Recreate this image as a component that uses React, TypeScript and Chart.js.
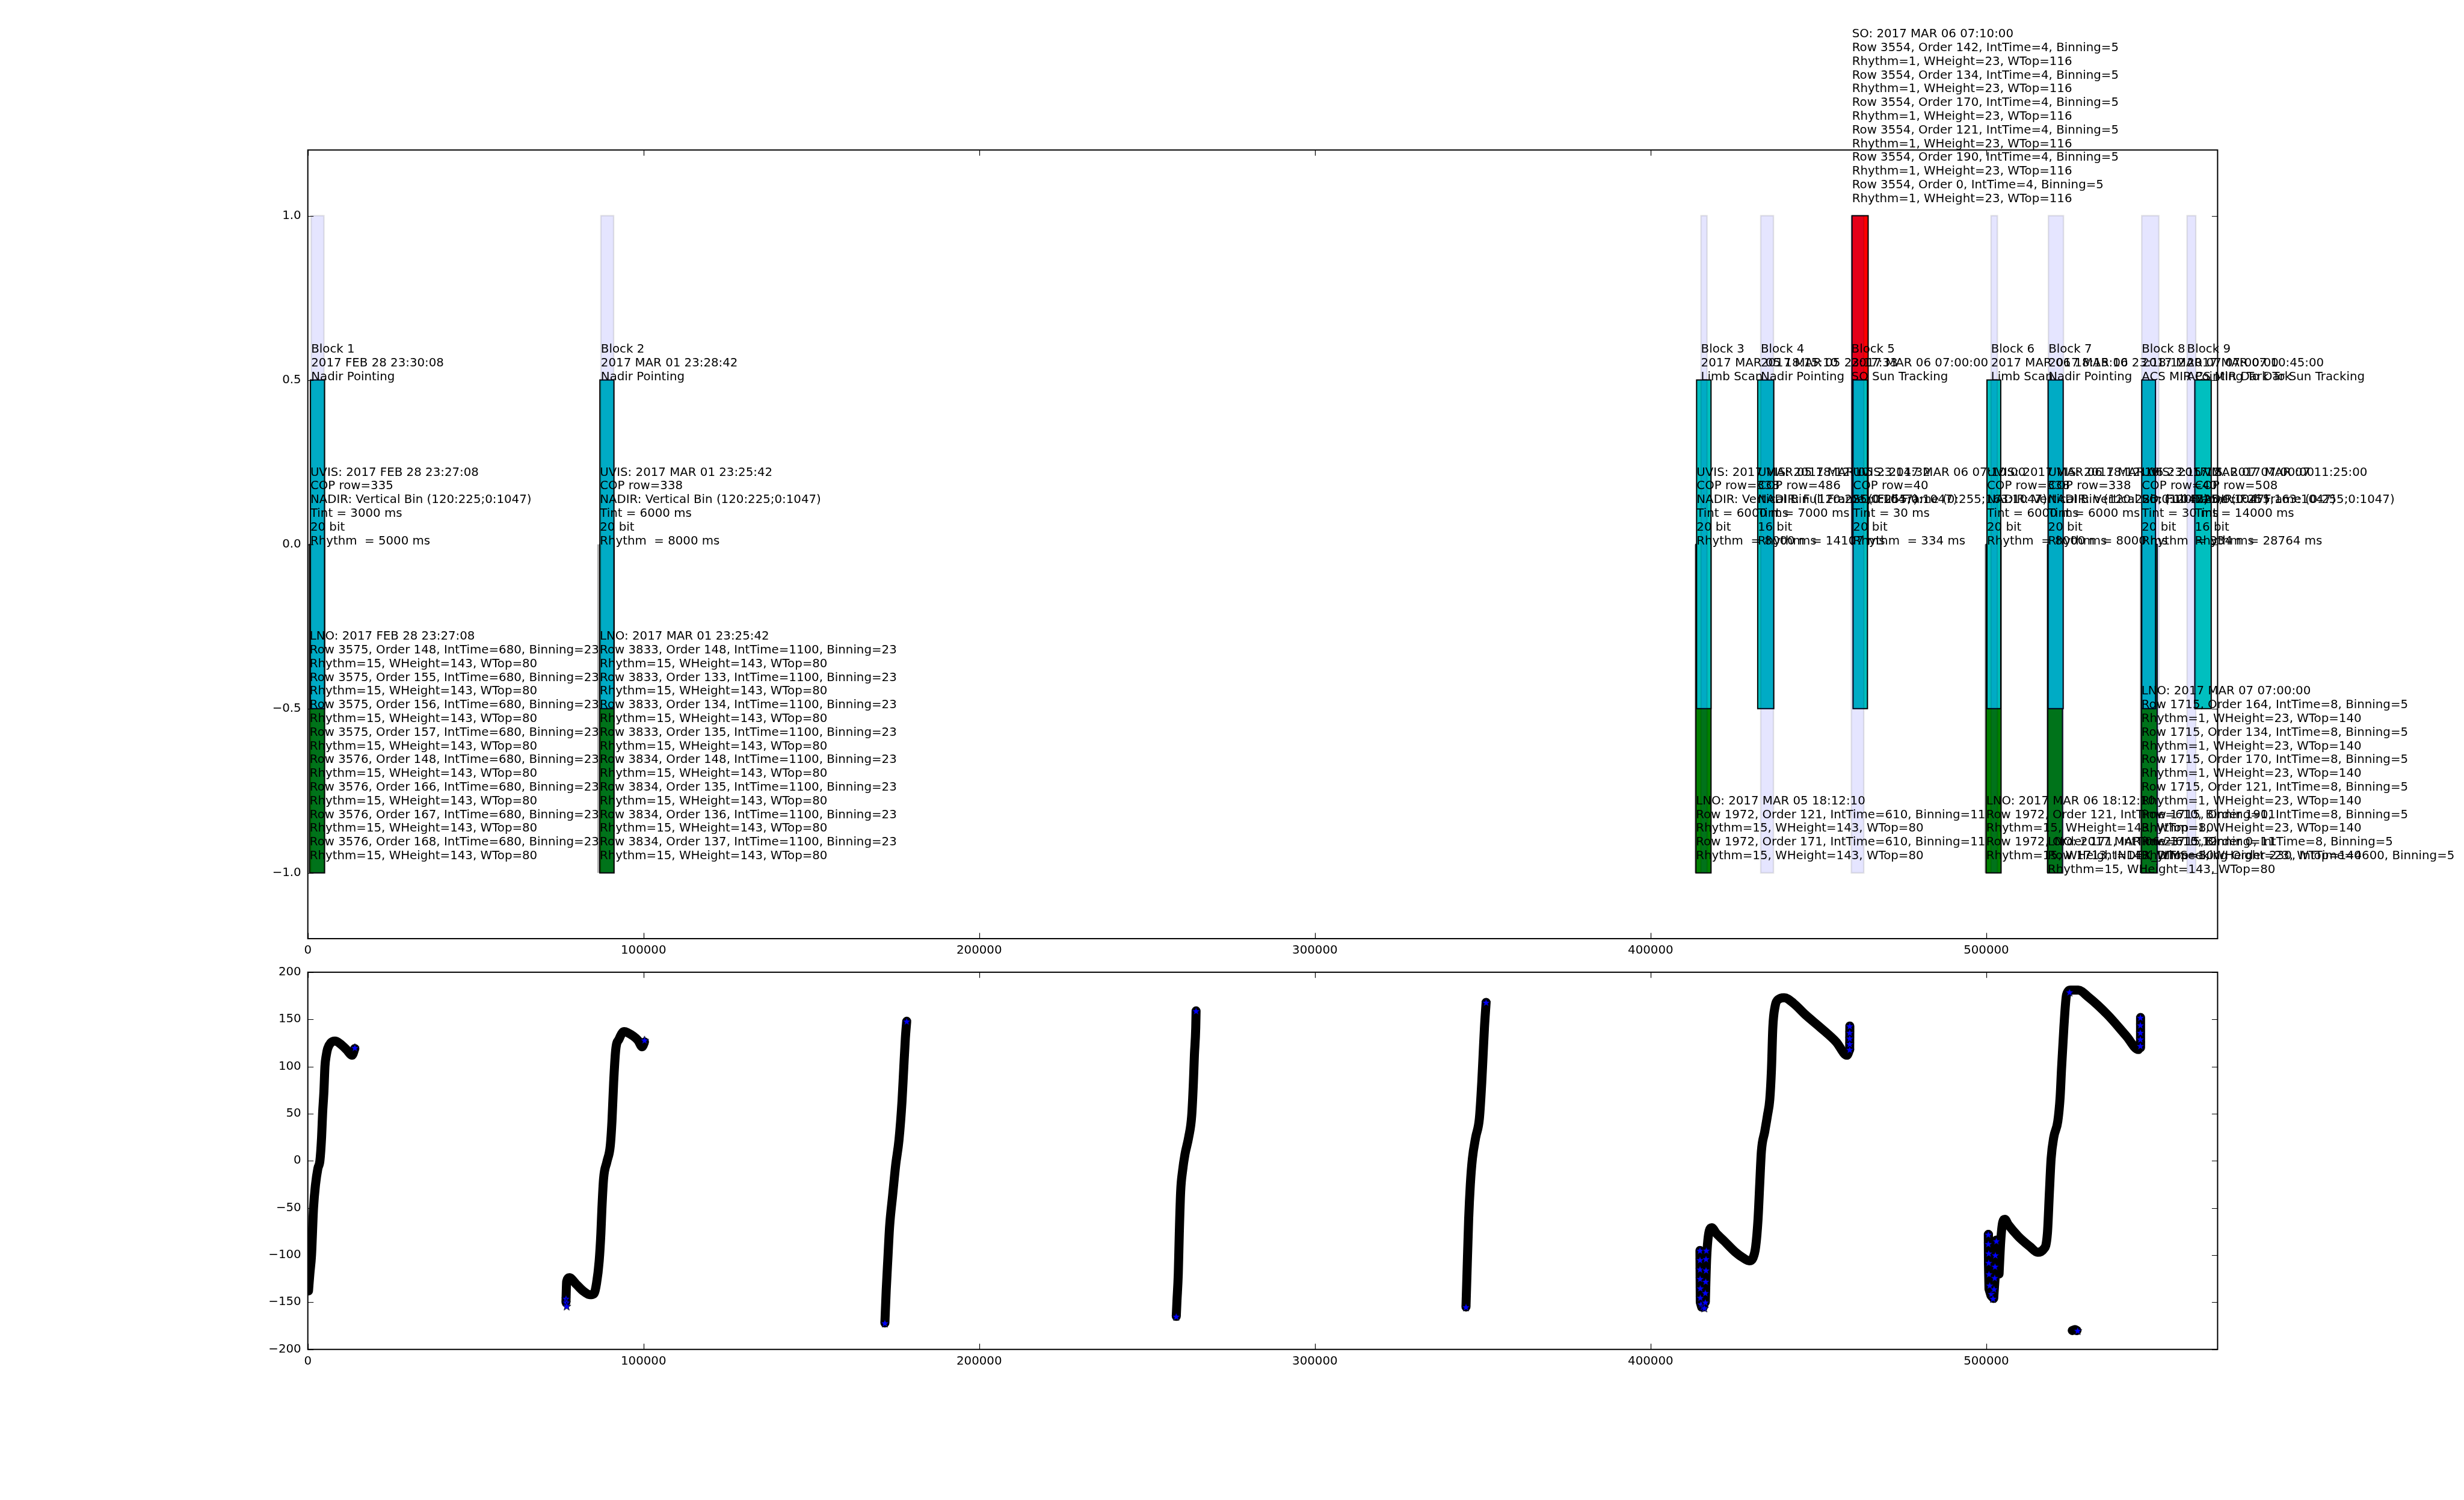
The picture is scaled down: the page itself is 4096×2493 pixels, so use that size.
import React, { useEffect, useRef } from "react";
import { Chart, registerables } from "chart.js";
Chart.register(...registerables);

const S = 4096 / 6900;
const FONT = "DejaVu Sans";
const FS = 19.8;
const LH = 22.8;

// ---------- axes ----------
const xTicks = [0, 100000, 200000, 300000, 400000, 500000];
const X_MAX = 568900;
const topYTicks = [-1.0, -0.5, 0.0, 0.5, 1.0];
const botYTicks = [-200, -150, -100, -50, 0, 50, 100, 150, 200];

// ---------- top panel: observation blocks ----------
const blockStart = [1000, 87300, 415000, 432800, 459800, 501400, 518500, 546300, 559800];
const blockEnd = [4800, 91100, 416800, 436600, 463500, 503300, 523000, 551400, 562400];
const blockLabels = [
  "Block 1\n2017 FEB 28 23:30:08\nNadir Pointing",
  "Block 2\n2017 MAR 01 23:28:42\nNadir Pointing",
  "Block 3\n2017 MAR 05 18:15:10\nLimb Scan",
  "Block 4\n2017 MAR 05 23:17:33\nNadir Pointing",
  "Block 5\n2017 MAR 06 07:00:00\nSO Sun Tracking",
  "Block 6\n2017 MAR 06 18:15:10\nLimb Scan",
  "Block 7\n2017 MAR 06 23:18:12\nNadir Pointing",
  "Block 8\n2017 MAR 07 07:00:00\nACS MIR Pointing To Dark",
  "Block 9\n2017 MAR 07 10:45:00\nACS MIR Dark To Sun Tracking",
];

const uvisStart = [750, 87000, 413700, 431900, 460300, 500200, 518400, 546300, 562100];
const uvisEnd = [5000, 91200, 418000, 436700, 464600, 504300, 522900, 550400, 567000];
const uvisLabels = [
  "UVIS: 2017 FEB 28 23:27:08\nCOP row=335\nNADIR: Vertical Bin (120:225;0:1047)\nTint = 3000 ms\n20 bit\nRhythm  = 5000 ms",
  "UVIS: 2017 MAR 01 23:25:42\nCOP row=338\nNADIR: Vertical Bin (120:225;0:1047)\nTint = 6000 ms\n20 bit\nRhythm  = 8000 ms",
  "UVIS: 2017 MAR 05 18:12:10\nCOP row=338\nNADIR: Vertical Bin (120:225;0:1047)\nTint = 6000 ms\n20 bit\nRhythm  = 8000 ms",
  "UVIS: 2017 MAR 05 23:14:32\nCOP row=486\nNADIR: Full Frame (0:255;0:1047)\nTint = 7000 ms\n16 bit\nRhythm  = 14107 ms",
  "UVIS: 2017 MAR 06 07:10:00\nCOP row=40\nSO: Full Frame (0:255;163:1047)\nTint = 30 ms\n20 bit\nRhythm  = 334 ms",
  "UVIS: 2017 MAR 06 18:12:10\nCOP row=338\nNADIR: Vertical Bin (120:225;0:1047)\nTint = 6000 ms\n20 bit\nRhythm  = 8000 ms",
  "UVIS: 2017 MAR 06 23:15:12\nCOP row=338\nNADIR: Vertical Bin (120:225;0:1047)\nTint = 6000 ms\n20 bit\nRhythm  = 8000 ms",
  "UVIS: 2017 MAR 07 07:00:00\nCOP row=40\nSO: Full Frame (0:255;163:1047)\nTint = 30 ms\n20 bit\nRhythm  = 334 ms",
  "UVIS: 2017 MAR 07 11:25:00\nCOP row=508\nNADIR: Full Frame (0:255;0:1047)\nTint = 14000 ms\n16 bit\nRhythm  = 28764 ms",
];

const lnoStart = [550, 86970, 413500, 499950, 518300, 546200];
const lnoEnd = [5000, 91230, 418000, 504400, 522700, 550900];
const lnoEdgeStart = [-200, 86240, 413100, 499500, 517900, 545750];
const lnoLabels = [
  "LNO: 2017 FEB 28 23:27:08\nRow 3575, Order 148, IntTime=680, Binning=23\nRhythm=15, WHeight=143, WTop=80\nRow 3575, Order 155, IntTime=680, Binning=23\nRhythm=15, WHeight=143, WTop=80\nRow 3575, Order 156, IntTime=680, Binning=23\nRhythm=15, WHeight=143, WTop=80\nRow 3575, Order 157, IntTime=680, Binning=23\nRhythm=15, WHeight=143, WTop=80\nRow 3576, Order 148, IntTime=680, Binning=23\nRhythm=15, WHeight=143, WTop=80\nRow 3576, Order 166, IntTime=680, Binning=23\nRhythm=15, WHeight=143, WTop=80\nRow 3576, Order 167, IntTime=680, Binning=23\nRhythm=15, WHeight=143, WTop=80\nRow 3576, Order 168, IntTime=680, Binning=23\nRhythm=15, WHeight=143, WTop=80\n",
  "LNO: 2017 MAR 01 23:25:42\nRow 3833, Order 148, IntTime=1100, Binning=23\nRhythm=15, WHeight=143, WTop=80\nRow 3833, Order 133, IntTime=1100, Binning=23\nRhythm=15, WHeight=143, WTop=80\nRow 3833, Order 134, IntTime=1100, Binning=23\nRhythm=15, WHeight=143, WTop=80\nRow 3833, Order 135, IntTime=1100, Binning=23\nRhythm=15, WHeight=143, WTop=80\nRow 3834, Order 148, IntTime=1100, Binning=23\nRhythm=15, WHeight=143, WTop=80\nRow 3834, Order 135, IntTime=1100, Binning=23\nRhythm=15, WHeight=143, WTop=80\nRow 3834, Order 136, IntTime=1100, Binning=23\nRhythm=15, WHeight=143, WTop=80\nRow 3834, Order 137, IntTime=1100, Binning=23\nRhythm=15, WHeight=143, WTop=80\n",
  "LNO: 2017 MAR 05 18:12:10\nRow 1972, Order 121, IntTime=610, Binning=11\nRhythm=15, WHeight=143, WTop=80\nRow 1972, Order 171, IntTime=610, Binning=11\nRhythm=15, WHeight=143, WTop=80\n",
  "LNO: 2017 MAR 06 18:12:10\nRow 1972, Order 121, IntTime=610, Binning=11\nRhythm=15, WHeight=143, WTop=80\nRow 1972, Order 171, IntTime=610, Binning=11\nRhythm=15, WHeight=143, WTop=80\n",
  "LNO: 2017 MAR 06 23:15:12\nRow 1713, INDEX_DIMSeeking Order 230, IntTime=4600, Binning=5\nRhythm=15, WHeight=143, WTop=80",
  "LNO: 2017 MAR 07 07:00:00\nRow 1715, Order 164, IntTime=8, Binning=5\nRhythm=1, WHeight=23, WTop=140\nRow 1715, Order 134, IntTime=8, Binning=5\nRhythm=1, WHeight=23, WTop=140\nRow 1715, Order 170, IntTime=8, Binning=5\nRhythm=1, WHeight=23, WTop=140\nRow 1715, Order 121, IntTime=8, Binning=5\nRhythm=1, WHeight=23, WTop=140\nRow 1715, Order 190, IntTime=8, Binning=5\nRhythm=1, WHeight=23, WTop=140\nRow 1715, Order 0, IntTime=8, Binning=5\nRhythm=1, WHeight=23, WTop=140\n",
];

const soStart = [460000];
const soEnd = [464800];
const soEdgeStart = [459700];
const soLabels = [
  "SO: 2017 MAR 06 07:10:00\nRow 3554, Order 142, IntTime=4, Binning=5\nRhythm=1, WHeight=23, WTop=116\nRow 3554, Order 134, IntTime=4, Binning=5\nRhythm=1, WHeight=23, WTop=116\nRow 3554, Order 170, IntTime=4, Binning=5\nRhythm=1, WHeight=23, WTop=116\nRow 3554, Order 121, IntTime=4, Binning=5\nRhythm=1, WHeight=23, WTop=116\nRow 3554, Order 190, IntTime=4, Binning=5\nRhythm=1, WHeight=23, WTop=116\nRow 3554, Order 0, IntTime=4, Binning=5\nRhythm=1, WHeight=23, WTop=116\n",
];

// ---------- bottom panel: pointing angle tracks ----------
const seg1X = [200, 600, 1100, 1700, 2300, 3000, 3600, 4100, 4400, 4800, 5100, 5500, 5900, 6800, 8100, 9700, 11500, 13200, 14000];
const seg1Y = [-138, -120, -100, -50, -25, -8, 0, 25, 50, 74, 100, 112, 119, 125, 127, 124, 118, 112, 119];
const seg2X = [76900, 77100, 77900, 80000, 82000, 84000, 85200, 86000, 86800, 87300, 87600, 88100, 89100, 90100, 90600, 91100, 91700, 92700, 94200, 95200, 98300, 99600, 100300];
const seg2Y = [-150, -128, -124, -131, -138, -142, -141, -130, -106, -77, -51, -19, -1, 16, 42, 83, 117, 129, 137, 136, 128, 121, 126];
const seg3X = [171900, 172300, 172800, 173300, 174200, 175100, 176100, 177000, 177500, 178000, 178400];
const seg3Y = [-172, -137, -103, -70, -37, -5, 22, 63, 97, 130, 148];
const seg4X = [258700, 258900, 259300, 259600, 260000, 260600, 261300, 262400, 263300, 263800, 264100, 264500, 264600];
const seg4Y = [-165, -149, -120, -77, -33, -10, 7, 25, 48, 83, 112, 141, 159];
const seg5X = [345000, 345300, 345800, 346300, 346900, 347900, 349000, 349700, 350100, 350500, 351000];
const seg5Y = [-155, -120, -62, -25, 2, 25, 45, 83, 112, 141, 168];
const seg6X = [416300, 416700, 417500, 418200, 419600, 421900, 425300, 427600, 429400, 430500, 431300, 432000, 432500, 433000, 434000, 434800, 435500, 436000, 436400, 437100, 438000, 439800, 442600, 446100, 450700, 455300, 458500, 459300];
const seg6Y = [-150, -103, -74, -71, -77, -85, -97, -103, -106, -103, -91, -62, -25, 10, 31, 48, 65, 97, 141, 164, 171, 173, 167, 155, 141, 126, 112, 118];
const seg7X = [503800, 504300, 504900, 505500, 506600, 509500, 513000, 515300, 517000, 518200, 518800, 519300, 520100, 521300, 522000, 522400, 523100, 523900, 525100, 527400, 530300, 536100, 541800, 545300, 545900];
const seg7Y = [-120, -85, -65, -62, -68, -80, -91, -97, -94, -77, -33, 2, 25, 42, 68, 97, 141, 176, 181, 181, 174, 155, 132, 118, 126];
const seg8X = [525600, 526400, 527000];
const seg8Y = [-180, -179, -180];
// dense star columns at the start/end of the last two tracks
const col6X = [414700, 414750, 414800, 415200, 415700, 416100, 416300];
const col6Y = [-95, -125, -150, -155, -155, -140, -105];
const col7X = [500600, 500650, 500800, 501400, 502200, 502700, 503000];
const col7Y = [-78, -110, -136, -143, -146, -120, -84];
const colEndX = [459300, 459350, 545900, 545950];
const colEndY = [118, 143, 120, 152];

const starX = [14000, 76900, 77000, 77100, 100300, 171900, 178400, 258700, 264600, 345000, 351000,
  414700, 414700, 414700, 414750, 414800, 414800, 415000, 415500, 416000, 416300, 416300, 416400, 416500, 416500, 416600,
  459300, 459300, 459300, 459300, 459300,
  500600, 500600, 500700, 500700, 500800, 501000, 501500, 502000, 502300, 502500, 502600, 502700, 503000, 524800,
  545900, 545900, 545900, 545900, 545900, 527200];
const starY = [120, -146, -150, -154, 128, -172, 148, -165, 159, -155, 168,
  -95, -105, -115, -125, -135, -145, -152, -155, -156, -150, -140, -128, -116, -104, -95,
  118, 124, 130, 136, 143,
  -78, -88, -98, -108, -120, -132, -141, -146, -136, -124, -112, -100, -85, 179,
  122, 129, 136, 144, 152, -180];

const segs = [[seg1X, seg1Y], [seg2X, seg2Y], [seg3X, seg3Y], [seg4X, seg4Y], [seg5X, seg5Y], [seg6X, seg6Y], [seg7X, seg7Y], [seg8X, seg8Y]];
const cols = [[col6X, col6Y], [col7X, col7Y], [colEndX.slice(0, 2), colEndY.slice(0, 2)], [colEndX.slice(2), colEndY.slice(2)]];

// ---------- helpers ----------
const rect = (x0: number, x1: number, y0: number, y1: number, bg: string, bc: string, bw: number, order: number) => ({
  type: "line",
  data: [{ x: x0, y: y0 }, { x: x0, y: y1 }, { x: x1, y: y1 }, { x: x1, y: y0 }, { x: x0, y: y0 }],
  backgroundColor: bg,
  borderColor: bc,
  borderWidth: bw,
  fill: "shape",
  pointRadius: 0,
  pointHoverRadius: 0,
  tension: 0,
  order,
  borderJoinStyle: "miter",
  borderCapStyle: "square",
});

const framePlugin = {
  id: "frame",
  afterDraw(chart: any) {
    const { ctx, chartArea: a, scales } = chart;
    ctx.save();
    ctx.strokeStyle = "#000";
    ctx.lineWidth = 1.2;
    const TL = 9.5;
    ctx.beginPath();
    scales.x.ticks.forEach((t: any) => {
      const px = Math.round(scales.x.getPixelForValue(t.value)) + 0.5;
      ctx.moveTo(px, a.bottom); ctx.lineTo(px, a.bottom - TL);
      ctx.moveTo(px, a.top); ctx.lineTo(px, a.top + TL);
    });
    scales.y.ticks.forEach((t: any) => {
      const py = Math.round(scales.y.getPixelForValue(t.value)) + 0.5;
      ctx.moveTo(a.left, py); ctx.lineTo(a.left + TL, py);
      ctx.moveTo(a.right, py); ctx.lineTo(a.right - TL, py);
    });
    ctx.stroke();
    ctx.lineWidth = 2;
    ctx.strokeRect(a.left, a.top, a.right - a.left, a.bottom - a.top);
    // annotations
    const items = chart.options.plugins.annot?.items || [];
    ctx.font = `${FS}px "${FONT}"`;
    ctx.fillStyle = "#000";
    ctx.textBaseline = "alphabetic";
    ctx.textAlign = "left";
    items.forEach((it: any) => {
      const lines = it.text.split("\n");
      const px = scales.x.getPixelForValue(it.x);
      const py = scales.y.getPixelForValue(it.y);
      const n = lines.length;
      lines.forEach((ln: string, i: number) => ctx.fillText(ln, px, py - (n - 1 - i) * LH));
    });
    ctx.restore();
  },
};

const LEFT = 862 * S;
const RIGHT_PAD = 4096 - 6210 * S;
const TOP1 = 420 * S;
const BOT1 = 2628 * S;
const TOP2 = 2722 * S;
const BOT2 = 3778 * S;
const XAXIS_H = 50;
const BAND = 15;

const tickFont = { family: FONT, size: FS };
const minus = (s: string) => s.replace("-", "\u2212");

function xScale() {
  return {
    type: "linear",
    min: 0,
    max: X_MAX,
    afterBuildTicks: (s: any) => { s.ticks = xTicks.map((v) => ({ value: v })); },
    afterFit: (s: any) => { s.height = XAXIS_H; },
    grid: { display: false, drawTicks: false },
    border: { display: false },
    ticks: { font: tickFont, color: "#000", padding: 8, autoSkip: false, maxRotation: 0, callback: (v: any) => String(v) },
  };
}

export default function App() {
  const topRef = useRef<HTMLCanvasElement>(null);
  const botRef = useRef<HTMLCanvasElement>(null);

  useEffect(() => {
    const star = document.createElement("canvas");
    const R = 7.5;
    const size = Math.ceil(2 * R + 3);
    star.width = size; star.height = size;
    const sc = star.getContext("2d")!;
    sc.translate(size / 2, size / 2 + 0.8);
    sc.beginPath();
    for (let k = 0; k < 10; k++) {
      const r = k % 2 === 0 ? R : R * 0.4;
      const a = -Math.PI / 2 + (k * Math.PI) / 5;
      if (k === 0) sc.moveTo(r * Math.cos(a), r * Math.sin(a)); else sc.lineTo(r * Math.cos(a), r * Math.sin(a));
    }
    sc.closePath();
    sc.fillStyle = "#0000FF"; sc.fill();
    sc.lineWidth = 0.9; sc.strokeStyle = "#000"; sc.stroke();

    const topDs: any[] = [];
    blockStart.forEach((x0, i) => topDs.push(rect(x0, blockEnd[i], -1, 1, "rgba(0,0,255,0.1)", "rgba(0,0,0,0.1)", 2.4, 1)));
    uvisStart.forEach((x0, i) => topDs.push(rect(x0, uvisEnd[i], -0.5, 0.5, "#00BFBF", "#000", 2, 2)));
    lnoStart.forEach((x0, i) => topDs.push(rect(x0, lnoEnd[i], -1, 0, "#008000", "#000", 2, 3)));
    soStart.forEach((x0, i) => topDs.push(rect(x0, soEnd[i], 0, 1, "#FF0000", "#000", 2, 3)));
    lnoEdgeStart.forEach((x0, i) => topDs.push(rect(x0, lnoStart[i], -1, 0, "rgba(0,0,0,0.33)", "rgba(0,0,0,0)", 0, 4)));
    soEdgeStart.forEach((x0, i) => topDs.push(rect(x0, soStart[i], 0, 1, "rgba(0,0,0,0.33)", "rgba(0,0,0,0)", 0, 4)));

    const items: any[] = [];
    blockStart.forEach((x, i) => items.push({ x, y: 0.5, text: blockLabels[i] }));
    uvisStart.forEach((x, i) => items.push({ x, y: 0.0, text: uvisLabels[i] }));
    lnoStart.forEach((x, i) => items.push({ x, y: -1.0, text: lnoLabels[i] }));
    soStart.forEach((x, i) => items.push({ x, y: 1.0, text: soLabels[i] }));

    const c1 = new Chart(topRef.current!, {
      type: "scatter",
      data: { datasets: topDs },
      options: {
        animation: false,
        responsive: false,
        devicePixelRatio: 1,
        events: [],
        layout: { padding: { left: 0, top: TOP1, right: RIGHT_PAD, bottom: 2493 - BOT1 - XAXIS_H } },
        plugins: { legend: { display: false }, tooltip: { enabled: false }, annot: { items } } as any,
        scales: {
          x: xScale() as any,
          y: {
            type: "linear",
            min: -1.2,
            max: 1.2,
            afterBuildTicks: (s: any) => { s.ticks = topYTicks.map((v) => ({ value: v })); },
            afterFit: (s: any) => { s.width = LEFT; },
            grid: { display: false, drawTicks: false },
            border: { display: false },
            ticks: { font: tickFont, color: "#000", padding: 11, callback: (v: any) => minus(Number(v).toFixed(1)) },
          },
        },
      },
      plugins: [framePlugin],
    } as any);

    const botDs: any[] = [];
    botDs.push({
      type: "scatter",
      data: starX.map((x, i) => ({ x, y: starY[i] })),
      pointStyle: star,
      pointRadius: 7,
      pointHoverRadius: 7,
      showLine: false,
      order: 0,
    });
    segs.forEach(([xs, ys]) => {
      botDs.push({
        type: "line",
        data: xs.map((x, i) => ({ x, y: ys[i] })),
        borderColor: "#000",
        borderWidth: BAND,
        pointRadius: 0,
        pointHoverRadius: 0,
        fill: false,
        cubicInterpolationMode: "monotone",
        borderCapStyle: "round",
        borderJoinStyle: "round",
        order: 1,
      });
    });
    cols.forEach(([xs, ys]) => {
      botDs.push({
        type: "line",
        data: xs.map((x, i) => ({ x, y: ys[i] })),
        borderColor: "#000",
        borderWidth: BAND,
        pointRadius: 0,
        pointHoverRadius: 0,
        fill: false,
        tension: 0,
        borderCapStyle: "round",
        borderJoinStyle: "round",
        order: 1,
      });
    });

    const c2 = new Chart(botRef.current!, {
      type: "scatter",
      data: { datasets: botDs },
      options: {
        animation: false,
        responsive: false,
        devicePixelRatio: 1,
        events: [],
        layout: { padding: { left: 0, top: TOP2, right: RIGHT_PAD, bottom: 2493 - BOT2 - XAXIS_H } },
        plugins: { legend: { display: false }, tooltip: { enabled: false } },
        scales: {
          x: xScale() as any,
          y: {
            type: "linear",
            min: -200,
            max: 200,
            afterBuildTicks: (s: any) => { s.ticks = botYTicks.map((v) => ({ value: v })); },
            afterFit: (s: any) => { s.width = LEFT; },
            grid: { display: false, drawTicks: false },
            border: { display: false },
            ticks: { font: tickFont, color: "#000", padding: 11, callback: (v: any) => minus(String(v)) },
          },
        },
      },
      plugins: [framePlugin],
    } as any);

    return () => { c1.destroy(); c2.destroy(); };
  }, []);

  return (
    <div style={{ position: "absolute", left: 0, top: 0, width: 4096, height: 2493, background: "#fff", overflow: "hidden" }}>
      <canvas ref={botRef} width={4096} height={2493} style={{ position: "absolute", left: 0, top: 0 }} />
      <canvas ref={topRef} width={4096} height={2493} style={{ position: "absolute", left: 0, top: 0 }} />
    </div>
  );
}
